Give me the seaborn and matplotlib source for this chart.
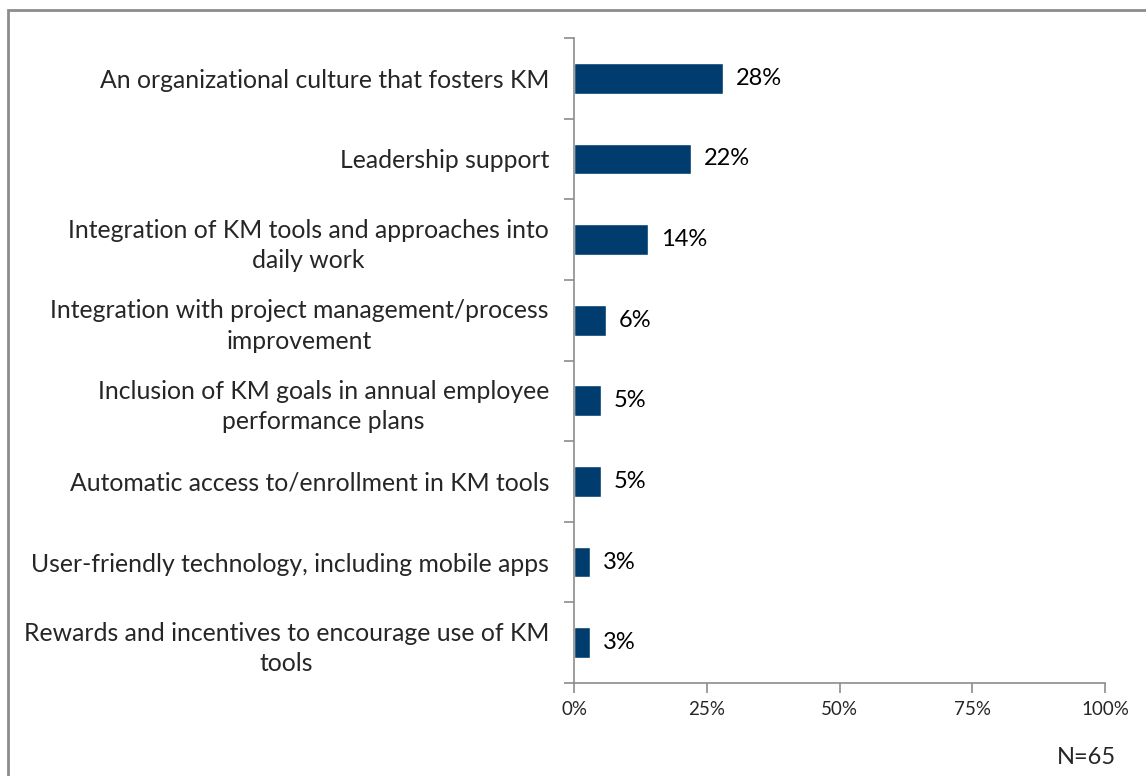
import matplotlib
matplotlib.use("Agg")
import matplotlib.pyplot as plt
import seaborn as sns
import pandas as pd
from matplotlib.patches import Rectangle

# Chart data
factors = [
    "An organizational culture that fosters KM",
    "Leadership support",
    "Integration of KM tools and approaches into\ndaily work",
    "Integration with project management/process\nimprovement",
    "Inclusion of KM goals in annual employee\nperformance plans",
    "Automatic access to/enrollment in KM tools",
    "User-friendly technology, including mobile apps",
    "Rewards and incentives to encourage use of KM\ntools",
]
shares = [28, 22, 14, 6, 5, 5, 3, 3]
x_ticks = [0, 25, 50, 75, 100]
sample_note = "N=65"

df = pd.DataFrame({"factor": factors, "share": shares})

sns.set_theme(style="white")
plt.rcParams["font.family"] = ["Lato", "DejaVu Sans"]

fig = plt.figure(figsize=(11.46, 7.76), dpi=100)
ax = fig.add_axes([574 / 1146, 1 - 683 / 776, (1105 - 574) / 1146, (683 - 38) / 776])

sns.barplot(data=df, x="share", y="factor", color="#003d6e", width=0.38,
            saturation=1, ax=ax, orient="h")

for i, v in enumerate(shares):
    ax.text(v + 2.4, i, f"{v}%", va="center", ha="left", fontsize=17, color="black")

ax.set_xlim(0, 100)
ax.set_ylim(len(factors) - 0.5, -0.5)
ax.set_xticks(x_ticks)
ax.set_xticklabels([f"{t}%" for t in x_ticks], fontsize=13.5)
ax.set_yticks([i - 0.5 for i in range(len(factors) + 1)], minor=False)
ax.set_yticklabels([])
ax.set_yticks(range(len(factors)), minor=True)
ax.set_yticklabels(factors, minor=True, fontsize=17.8, ha="right",
                   multialignment="center", linespacing=1.4)
ax.tick_params(axis="y", which="minor", length=0, pad=18)
ax.tick_params(axis="y", which="major", length=7, color="#8c8c8c", width=1.2, direction="out", left=True)
ax.tick_params(axis="x", length=7, color="#8c8c8c", width=1.2, direction="out", bottom=True, pad=6)
ax.set_xlabel("")
ax.set_ylabel("")

for side in ["top", "right"]:
    ax.spines[side].set_visible(False)
for side in ["left", "bottom"]:
    ax.spines[side].set_color("#8c8c8c")
    ax.spines[side].set_linewidth(1.2)

fig.text(1116 / 1146, 1 - 757 / 776, sample_note, ha="right", va="center", fontsize=17)

# outer frame (only top/left edges visible in the source crop)
fig.patches.append(Rectangle((8 / 1146, -0.05), 1.2, 1 - 10 / 776 + 0.05,
                             transform=fig.transFigure, fill=False,
                             edgecolor="#8c8c8c", linewidth=2))

fig.savefig("out.png", dpi=100)
